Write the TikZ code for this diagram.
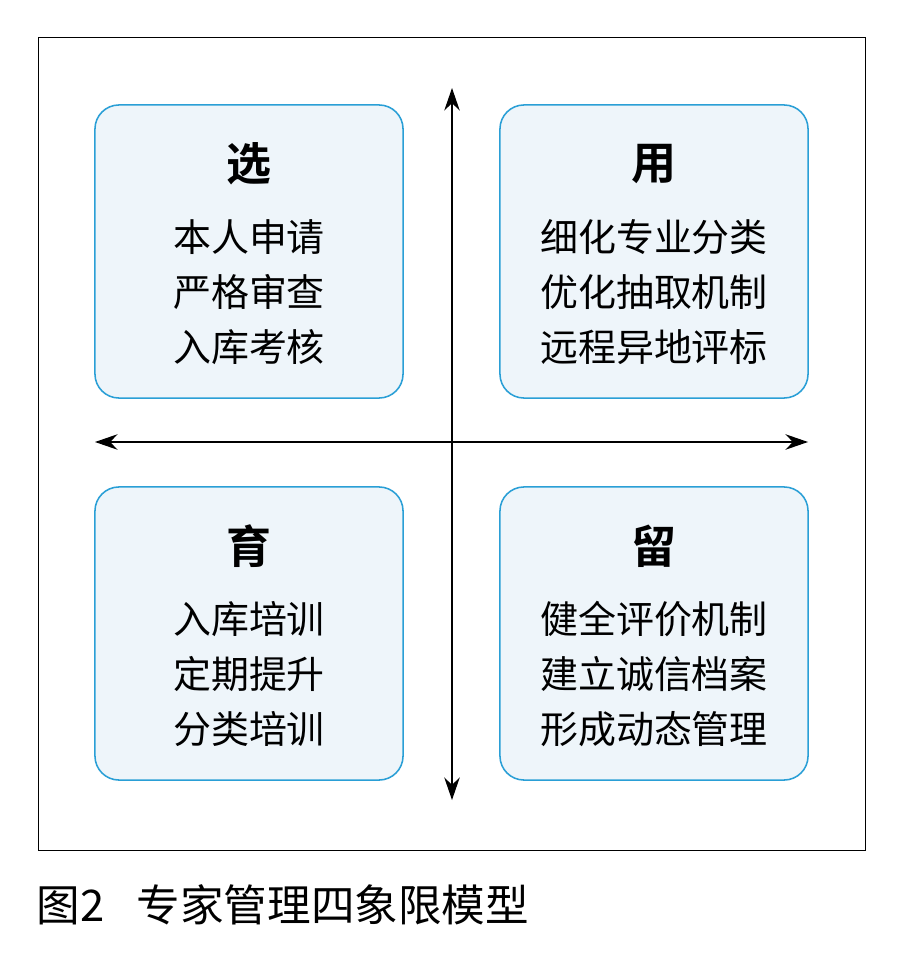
\documentclass[tikz,border=0pt]{standalone}
\usepackage{fontspec}
\newfontfamily\cjk{Noto Sans CJK SC}
\newfontfamily\cjkbold{Noto Sans CJK SC Bold}
\usetikzlibrary{arrows.meta, positioning}
\definecolor{boxline}{HTML}{2A9FD6}
\definecolor{boxfill}{HTML}{EEF5FA}
\begin{document}
\begin{tikzpicture}[x=0.025cm, y=-0.025cm,
            quad/.style={draw=boxline, fill=boxfill, line width=1.1pt, rounded corners=0.6cm,
                minimum width=7.7cm, minimum height=7.325cm},
            quadtitle/.style={font=\cjkbold\fontsize{32}{34}\selectfont},
            items/.style={font=\cjk\fontsize{27}{39}\selectfont, align=center},
            axis/.style={{Stealth[length=16pt,width=11pt]}-{Stealth[length=16pt,width=11pt]}, line width=0.9pt}
        ]
            \useasboundingbox (0,0) rectangle (900,957);
            \draw[line width=0.6pt] (38,37) rectangle (865,850);
            % quadrants
            \node[quad] (xuan) at (249,251.5) {};
            \node[quad] (yong) at (654,251.5) {};
            \node[quad] (yu) at (249,633.5) {};
            \node[quad] (liu) at (654,633.5) {};
            \node[quadtitle] (xuan_t) at ([yshift=-1.5cm]xuan.north) {选};
            \node[quadtitle] (yong_t) at ([yshift=-1.5cm]yong.north) {用};
            \node[quadtitle] (yu_t) at ([yshift=-1.5cm]yu.north) {育};
            \node[quadtitle] (liu_t) at ([yshift=-1.5cm]liu.north) {留};
            \node[items] (xuan_i) at ([yshift=-4.7cm]xuan.north) {本人申请\\严格审查\\入库考核};
            \node[items] (yong_i) at ([yshift=-4.7cm]yong.north) {细化专业分类\\优化抽取机制\\远程异地评标};
            \node[items] (yu_i) at ([yshift=-4.7cm]yu.north) {入库培训\\定期提升\\分类培训};
            \node[items] (liu_i) at ([yshift=-4.7cm]liu.north) {健全评价机制\\建立诚信档案\\形成动态管理};
            % axes
            \coordinate (top) at (452,88);
            \coordinate (bottom) at (452,800);
            \coordinate (left) at (95,442);
            \coordinate (right) at (808,442);
            \draw[axis] (top) -- (bottom);
            \draw[axis] (left) -- (right);
            % caption
            \node[font=\cjk\fontsize{31}{33}\selectfont, anchor=west] (caption) at (32,905) {图2\hspace{0.8cm}专家管理四象限模型};
        \end{tikzpicture}
\end{document}
